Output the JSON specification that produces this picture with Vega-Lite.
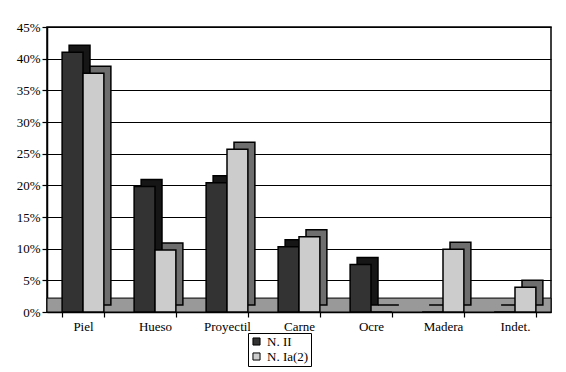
{
  "$schema": "https://vega.github.io/schema/vega-lite/v6.json",
  "width": 504,
  "height": 285,
  "autosize": {"type": "none"},
  "padding": {"left": 47, "top": 27, "right": 15, "bottom": 60},
  "background": "white",
  "config": {
    "view": {"stroke": "black", "strokeWidth": 1.5},
    "font": "Liberation Serif",
    "style": {"guide-label": {"font": "Liberation Serif", "fontSize": 13, "fill": "black"}},
    "axis": {"labelFont": "Liberation Serif", "labelFontSize": 13, "labelColor": "black", "domainColor": "black", "domainWidth": 1.5, "tickColor": "black", "tickWidth": 1.2, "gridColor": "black", "gridWidth": 1.2, "gridOpacity": 1}
  },
  "data": {
    "values": [
      {"cat": "Piel", "serie": "N. II", "v": 0.41},
      {"cat": "Piel", "serie": "N. Ia(2)", "v": 0.377},
      {"cat": "Hueso", "serie": "N. II", "v": 0.198},
      {"cat": "Hueso", "serie": "N. Ia(2)", "v": 0.098},
      {"cat": "Proyectil", "serie": "N. II", "v": 0.204},
      {"cat": "Proyectil", "serie": "N. Ia(2)", "v": 0.257},
      {"cat": "Carne", "serie": "N. II", "v": 0.103},
      {"cat": "Carne", "serie": "N. Ia(2)", "v": 0.119},
      {"cat": "Ocre", "serie": "N. II", "v": 0.075},
      {"cat": "Ocre", "serie": "N. Ia(2)", "v": 0},
      {"cat": "Madera", "serie": "N. II", "v": 0},
      {"cat": "Madera", "serie": "N. Ia(2)", "v": 0.099},
      {"cat": "Indet.", "serie": "N. II", "v": 0},
      {"cat": "Indet.", "serie": "N. Ia(2)", "v": 0.039}
    ]
  },
  "resolve": {"scale": {"xOffset": "independent"}},
  "layer": [
    {
      "data": {"values": [{}]},
      "mark": {"type": "rect", "color": "#999999", "stroke": "black", "strokeWidth": 1},
      "encoding": {
        "y": {"datum": 0, "type": "quantitative", "scale": {"domain": [0, 0.45]}, "axis": {"title": null, "format": ".0%", "values": [0, 0.05, 0.1, 0.15, 0.2, 0.25, 0.3, 0.35, 0.4, 0.45], "grid": true, "tickSize": 5, "labelPadding": 2, "labelFont": "Liberation Serif", "labelFontSize": 13}},
        "y2": {"datum": 0.022}
      }
    },
    {
      "mark": {"type": "bar", "yOffset": -7, "stroke": "black", "strokeWidth": 1.5},
      "encoding": {
        "x": {"field": "cat", "type": "nominal", "sort": ["Piel", "Hueso", "Proyectil", "Carne", "Ocre", "Madera", "Indet."], "scale": {"paddingInner": 0.42, "paddingOuter": 0.21}, "axis": {"title": null, "labelAngle": 0, "tickBand": "extent", "tickSize": 5, "labelPadding": 3, "labelFont": "Liberation Serif", "labelFontSize": 13}},
        "xOffset": {"field": "serie", "type": "nominal", "sort": ["N. II", "N. Ia(2)"], "scale": {"range": [7, 48.76], "paddingInner": 0, "paddingOuter": 0}},
        "y": {"field": "v", "type": "quantitative", "axis": {"title": null, "format": ".0%", "values": [0, 0.05, 0.1, 0.15, 0.2, 0.25, 0.3, 0.35, 0.4, 0.45], "grid": true, "tickSize": 5, "labelPadding": 2, "labelFont": "Liberation Serif", "labelFontSize": 13}},
        "fill": {"condition": {"test": "datum.serie === 'N. II'", "value": "#161616"}, "value": "#6e6e6e"}
      }
    },
    {
      "mark": {"type": "bar", "stroke": "black", "strokeWidth": 1.5},
      "encoding": {
        "x": {"field": "cat", "type": "nominal", "sort": ["Piel", "Hueso", "Proyectil", "Carne", "Ocre", "Madera", "Indet."], "axis": {"title": null, "labelAngle": 0, "tickBand": "extent", "tickSize": 5, "labelPadding": 3, "labelFont": "Liberation Serif", "labelFontSize": 13}},
        "xOffset": {"field": "serie", "type": "nominal", "sort": ["N. II", "N. Ia(2)"], "scale": {"paddingInner": 0, "paddingOuter": 0}},
        "y": {"field": "v", "type": "quantitative", "axis": {"title": null, "format": ".0%", "values": [0, 0.05, 0.1, 0.15, 0.2, 0.25, 0.3, 0.35, 0.4, 0.45], "grid": true, "tickSize": 5, "labelPadding": 2, "labelFont": "Liberation Serif", "labelFontSize": 13}},
        "color": {"field": "serie", "type": "nominal", "sort": ["N. II", "N. Ia(2)"], "scale": {"domain": ["N. II", "N. Ia(2)"], "range": ["#333333", "#cccccc"]}, "legend": {"title": null, "orient": "none", "legendX": 201, "legendY": 306, "strokeColor": "black", "padding": 2, "symbolType": "square", "symbolSize": 50, "symbolStrokeColor": "black", "symbolStrokeWidth": 1, "labelFontSize": 13, "labelFont": "Liberation Serif", "labelColor": "black", "rowPadding": 1, "fillColor": "white"}}
      }
    }
  ]
}
